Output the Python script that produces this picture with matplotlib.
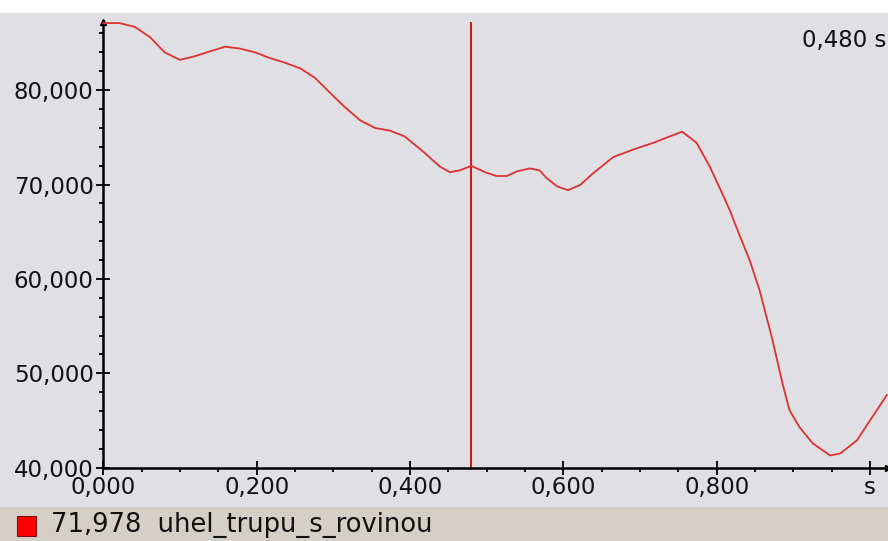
import matplotlib
matplotlib.use("Agg")
import matplotlib.pyplot as plt
from matplotlib.patches import Rectangle
from matplotlib.ticker import MultipleLocator, FuncFormatter

# cas [s] a uhel trupu s rovinou
t = [0.000, 0.021, 0.041, 0.061, 0.080, 0.100, 0.120, 0.139, 0.159, 0.178,
     0.198, 0.217, 0.237, 0.257, 0.276, 0.296, 0.315, 0.335, 0.354, 0.374,
     0.393, 0.417, 0.439, 0.452, 0.465, 0.480, 0.498, 0.513, 0.526, 0.540,
     0.556, 0.569, 0.578, 0.592, 0.606, 0.622, 0.639, 0.665, 0.691, 0.717,
     0.739, 0.755, 0.774, 0.791, 0.807, 0.817, 0.830, 0.843, 0.856, 0.872,
     0.886, 0.895, 0.908, 0.925, 0.948, 0.961, 0.983, 1.000, 1.022]
uhel = [87100, 87100, 86700, 85600, 84000, 83200, 83600, 84100, 84600, 84400,
        84000, 83400, 82900, 82300, 81300, 79700, 78200, 76800, 76000, 75700,
        75100, 73500, 71900, 71300, 71500, 71978, 71300, 70900, 70900, 71400,
        71700, 71500, 70700, 69800, 69400, 69950, 71200, 72900, 73700, 74400,
        75100, 75600, 74400, 71900, 69100, 67300, 64600, 62000, 58800, 53800,
        48900, 46100, 44300, 42600, 41300, 41500, 42900, 45000, 47700]
kurzor = 0.480
kurzor_hodnota = "71,978"
nazev = "uhel_trupu_s_rovinou"
xticks = [0.0, 0.2, 0.4, 0.6, 0.8, 1.0]
xlabels = ["0,000", "0,200", "0,400", "0,600", "0,800", "s"]
yticks = [40000, 50000, 60000, 70000, 80000]

BG = "#E0DFE3"; BAR = "#D4D0C8"; RED = "#DC3232"; CUR = "#C81E1E"
FS = 16.5

fig = plt.figure(figsize=(8.88, 5.41), dpi=100)
fig.patch.set_facecolor(BG)
fig.patches.append(Rectangle((0, 1 - 13/541), 1, 13/541, transform=fig.transFigure,
                             facecolor="white", edgecolor="none", zorder=0))
fig.patches.append(Rectangle((0, 0), 1, 34/541, transform=fig.transFigure,
                             facecolor=BAR, edgecolor="none", zorder=0))

ax = fig.add_axes([103.3/888, (541-467.7)/541, (888-103.3)/888, (467.7-22)/541])
ax.set_facecolor("none")
ax.plot(t, uhel, color=RED, lw=1.3, clip_on=False, zorder=3)
ax.axvline(kurzor, color=CUR, lw=1.5, zorder=2)

ax.set_xlim(0, 1.0235)
ax.set_ylim(40000, 87214)
for s in ["top", "right"]:
    ax.spines[s].set_visible(False)
for s in ["left", "bottom"]:
    ax.spines[s].set_color("black"); ax.spines[s].set_linewidth(1.8)
ax.plot([0], [1], marker="^", color="black", ms=5, transform=ax.transAxes, clip_on=False)
ax.plot([1], [0], marker=">", color="black", ms=5, transform=ax.transAxes, clip_on=False)

ax.set_xticks(xticks)
ax.set_xticklabels(xlabels)
ax.set_yticks(yticks)
ax.yaxis.set_major_formatter(FuncFormatter(lambda v, _: f"{v:,.0f}"))
ax.xaxis.set_minor_locator(MultipleLocator(0.05))
ax.yaxis.set_minor_locator(MultipleLocator(2000))
ax.tick_params(which="major", direction="inout", length=10, width=1.3, colors="black",
               labelsize=FS, labelcolor="#111111", pad=2)
ax.tick_params(which="minor", direction="out", length=3, width=1.3, colors="black")
ax.tick_params(axis="x", which="major", pad=1)

fig.text(886/888, 1 - 40/541, f"{kurzor:.3f} s".replace(".", ","), ha="right",
         va="center", fontsize=FS, color="#111111")
fig.patches.append(Rectangle((17/888, 1 - 536/541), 19/888, 20/541, transform=fig.transFigure,
                             facecolor="#FF0000", edgecolor="#801010", lw=0.8, zorder=2))
fig.text(51/888, 1 - 525/541, f"{kurzor_hodnota}  {nazev}", ha="left", va="center",
         fontsize=18.5, color="#111111")

fig.savefig("out.png", dpi=100, facecolor=BG)
